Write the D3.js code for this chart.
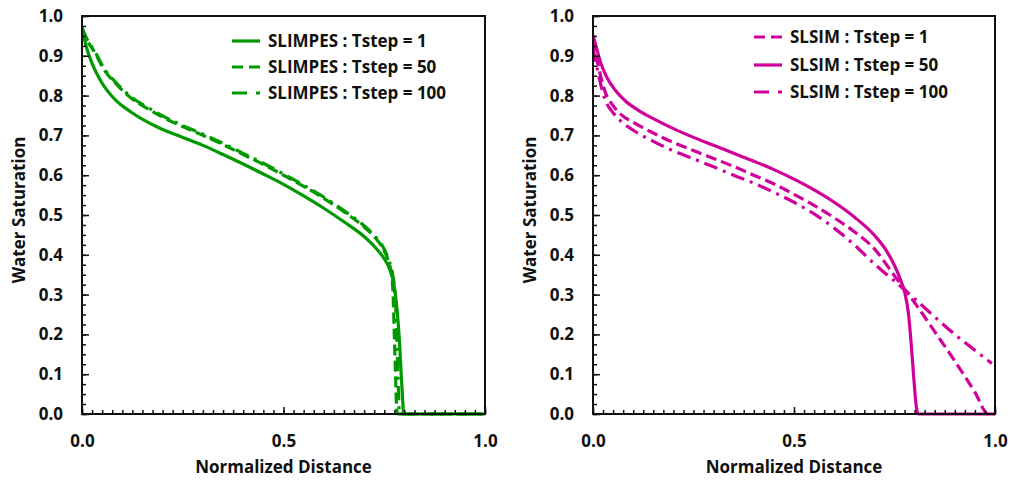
<!DOCTYPE html>
<html>
<head>
<meta charset="utf-8">
<script src="https://cdn.jsdelivr.net/npm/d3@7"></script>
<style>
  body { margin: 0; background: #fff; }
  text { font-family: "Open Sans", Lato, sans-serif; font-weight: bold; fill: #111; }
</style>
</head>
<body>
<div id="chart"></div>
<script>
// values: [normalized distance, water saturation]
var slimpes1 = [[0,0.97],[0.01,0.925],[0.025,0.881],[0.05,0.831],[0.083,0.789],[0.124,0.757],
  [0.165,0.732],[0.2,0.715],[0.25,0.695],[0.3,0.675],[0.35,0.652],[0.4,0.628],[0.45,0.603],
  [0.5,0.577],[0.55,0.548],[0.6,0.517],[0.65,0.483],[0.7,0.446],[0.73,0.416],[0.75,0.39],
  [0.765,0.36],[0.775,0.32],[0.782,0.26],[0.788,0.18],[0.792,0.1],[0.796,0.03],[0.798,0],[1.0,0]];
var slimpes50 = [[0,0.97],[0.01,0.945],[0.033,0.906],[0.055,0.865],[0.083,0.831],[0.124,0.792],
  [0.165,0.766],[0.2,0.746],[0.25,0.722],[0.3,0.7],[0.35,0.677],[0.4,0.652],[0.45,0.627],
  [0.5,0.6],[0.55,0.572],[0.6,0.542],[0.65,0.508],[0.7,0.47],[0.73,0.44],[0.75,0.41],[0.76,0.385],
  [0.768,0.35],[0.772,0.3],[0.775,0.2],[0.778,0.1],[0.781,0.01],[0.783,0],[1,0]];
var slimpes100 = [[0,0.97],[0.01,0.947],[0.033,0.909],[0.055,0.868],[0.083,0.834],[0.124,0.795],
  [0.165,0.769],[0.2,0.749],[0.25,0.725],[0.3,0.703],[0.35,0.68],[0.4,0.655],[0.45,0.63],
  [0.5,0.603],[0.55,0.575],[0.6,0.545],[0.65,0.511],[0.7,0.473],[0.73,0.443],[0.75,0.414],[0.762,0.385],
  [0.771,0.35],[0.777,0.3],[0.781,0.2],[0.784,0.1],[0.787,0.01],[0.789,0],[1,0]];

var slsim1 = [[0,0.94],[0.01,0.89],[0.02,0.845],[0.03,0.81],[0.05,0.775],[0.07,0.752],[0.1,0.733],
  [0.15,0.706],[0.2,0.682],[0.25,0.662],[0.3,0.642],[0.35,0.622],[0.4,0.6],[0.45,0.578],[0.5,0.552],
  [0.55,0.524],[0.6,0.493],[0.65,0.458],[0.7,0.415],[0.75,0.347],[0.8,0.28],[0.85,0.207],[0.9,0.133],
  [0.95,0.055],[0.983,0],[1,0]];
var slsim50 = [[0,0.952],[0.01,0.915],[0.02,0.88],[0.035,0.845],[0.055,0.814],[0.08,0.787],[0.113,0.763],
  [0.15,0.742],[0.2,0.717],[0.25,0.695],[0.3,0.675],[0.35,0.655],[0.4,0.635],[0.45,0.614],[0.5,0.59],
  [0.55,0.563],[0.6,0.532],[0.65,0.495],[0.7,0.449],[0.73,0.41],[0.75,0.373],[0.765,0.337],[0.776,0.303],
  [0.785,0.25],[0.792,0.17],[0.798,0.09],[0.804,0.02],[0.809,0],[1,0]];
var slsim100 = [[0,0.92],[0.01,0.87],[0.02,0.825],[0.03,0.79],[0.05,0.757],[0.07,0.735],[0.1,0.713],
  [0.15,0.685],[0.2,0.661],[0.25,0.641],[0.3,0.621],[0.35,0.6],[0.4,0.58],[0.45,0.557],[0.5,0.532],
  [0.55,0.503],[0.6,0.467],[0.65,0.425],[0.7,0.377],[0.75,0.334],[0.8,0.29],[0.85,0.244],[0.9,0.2],
  [0.95,0.16],[0.992,0.127]];

var xTicks = [0, 0.5, 1.0];
var yTicks = [0, 0.1, 0.2, 0.3, 0.4, 0.5, 0.6, 0.7, 0.8, 0.9, 1.0];
var leftNames = ["SLIMPES : Tstep = 1", "SLIMPES : Tstep = 50", "SLIMPES : Tstep = 100"];
var rightNames = ["SLSIM : Tstep = 1", "SLSIM : Tstep = 50", "SLSIM : Tstep = 100"];

var GREEN = "#009a00", PINK = "#d0009a";
var SOLID = null, DASH = "11,5", DASHDOT = "14,6,3,6";
var FS = 17;

var svg = d3.select("#chart").append("svg").attr("width", 1013).attr("height", 480);

function panel(opt) {
  var x = d3.scaleLinear().domain([0, 1]).range([opt.left, opt.right]);
  var y = d3.scaleLinear().domain([0, 1]).range([414, 16]);
  var g = svg.append("g");

  // clip so lines stay inside the frame
  var cid = "clip" + opt.left;
  svg.append("clipPath").attr("id", cid).append("rect")
    .attr("x", opt.left).attr("y", 14).attr("width", opt.right - opt.left).attr("height", 402);

  var line = d3.line()
    .x(function (d) { return x(d[0]); })
    .y(function (d) { return y(d[1]); })
    .curve(d3.curveMonotoneX);
  opt.series.forEach(function (s) {
    g.append("path").datum(s.data)
      .attr("clip-path", "url(#" + cid + ")")
      .attr("d", line)
      .attr("fill", "none").attr("stroke", opt.color).attr("stroke-width", 3.2)
      .attr("stroke-dasharray", s.dash);
  });

  // minor ticks (inside)
  var minorX = d3.range(0, 1.0001, 0.025);
  var minorY = d3.range(0, 1.0001, 0.025);
  function styleTicks(a) {
    a.select(".domain").remove();
    a.selectAll("line").attr("stroke", "#111").attr("stroke-width", 1.5);
  }
  g.append("g").attr("transform", "translate(0,414)")
    .call(d3.axisBottom(x).tickValues(minorX).tickSize(-4).tickFormat(""))
    .call(styleTicks);
  g.append("g").attr("transform", "translate(" + opt.left + ",0)")
    .call(d3.axisLeft(y).tickValues(minorY).tickSize(-4).tickFormat(""))
    .call(styleTicks);

  // major ticks and labels
  var ax = g.append("g").attr("transform", "translate(0,414)")
    .call(d3.axisBottom(x).tickValues(xTicks).tickSizeInner(-7).tickSizeOuter(0).tickPadding(21)
      .tickFormat(d3.format(".1f")))
    .call(styleTicks);
  ax.selectAll("text").attr("font-size", FS).attr("fill", "#111");

  var ay = g.append("g").attr("transform", "translate(" + opt.left + ",0)")
    .call(d3.axisLeft(y).tickValues(yTicks).tickSizeInner(-7).tickSizeOuter(0).tickPadding(19)
      .tickFormat(d3.format(".1f")))
    .call(styleTicks);
  ay.selectAll("text").attr("font-size", FS).attr("fill", "#111");

  // frame
  g.append("rect").attr("x", opt.left).attr("y", 16)
    .attr("width", opt.right - opt.left).attr("height", 398)
    .attr("fill", "none").attr("stroke", "#111").attr("stroke-width", 2);

  // axis titles
  g.append("text").attr("x", (opt.left + opt.right) / 2).attr("y", 473)
    .attr("text-anchor", "middle").attr("font-size", FS).text("Normalized Distance");
  g.append("text").attr("transform", "translate(" + opt.ytitle + ",210) rotate(-90)")
    .attr("text-anchor", "middle").attr("font-size", FS).text("Water Saturation");

  // legend
  opt.series.forEach(function (s, i) {
    var ly = opt.legY[i];
    g.append("line").attr("x1", opt.legX).attr("x2", opt.legX + 28)
      .attr("y1", ly).attr("y2", ly)
      .attr("stroke", opt.color).attr("stroke-width", 3.2).attr("stroke-dasharray", s.legDash);
    g.append("text").attr("x", opt.legX + 36).attr("y", ly + 6)
      .attr("font-size", FS).text(s.name);
  });
}

panel({
  left: 82, right: 485, ytitle: 25, color: GREEN,
  legX: 232, legY: [41, 67, 93],
  series: [
    { name: leftNames[0], data: slimpes1, dash: SOLID, legDash: SOLID },
    { name: leftNames[1], data: slimpes50, dash: DASH, legDash: "11,6" },
    { name: leftNames[2], data: slimpes100, dash: DASHDOT, legDash: "15,9,4" }
  ]
});
panel({
  left: 593, right: 995, ytitle: 536, color: PINK,
  legX: 754, legY: [37, 65, 92],
  series: [
    { name: rightNames[0], data: slsim1, dash: DASH, legDash: "11,6" },
    { name: rightNames[1], data: slsim50, dash: SOLID, legDash: SOLID },
    { name: rightNames[2], data: slsim100, dash: DASHDOT, legDash: "15,9,4" }
  ]
});
</script>
</body>
</html>
